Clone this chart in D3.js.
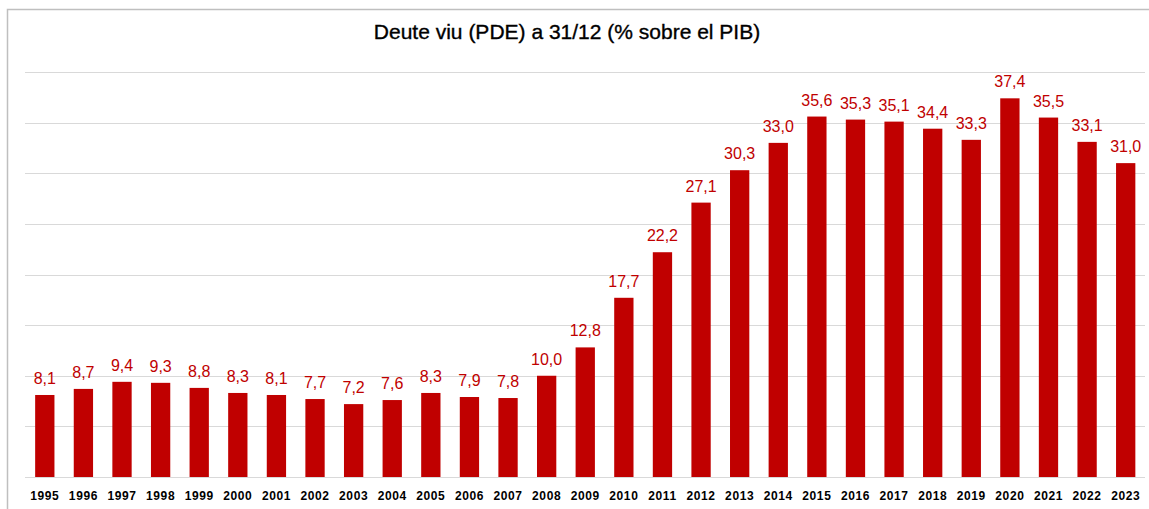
<!DOCTYPE html>
<html><head><meta charset="utf-8">
<script src="https://cdn.jsdelivr.net/npm/d3@7"></script>
<style>html,body{margin:0;padding:0;background:#fff;}svg{display:block;}</style>
</head><body>
<script>
const years = ["1995","1996","1997","1998","1999","2000","2001","2002","2003","2004","2005","2006","2007","2008","2009","2010","2011","2012","2013","2014","2015","2016","2017","2018","2019","2020","2021","2022","2023"];
const values = [8.1,8.7,9.4,9.3,8.8,8.3,8.1,7.7,7.2,7.6,8.3,7.9,7.8,10.0,12.8,17.7,22.2,27.1,30.3,33.0,35.6,35.3,35.1,34.4,33.3,37.4,35.5,33.1,31.0];
const yTicks = [0,5,10,15,20,25,30,35,40];
const title = "Deute viu (PDE) a 31/12 (% sobre el PIB)";

const W = 1149, H = 509;
const svg = d3.select("body").append("svg").attr("width", W).attr("height", H);

// border
svg.append("path").attr("d", "M7.5,509 V9.5 H1149").attr("fill","none").attr("stroke","#bfbfbf").attr("stroke-width",1.5);

const x = d3.scaleBand().domain(years).range([25.5, 1145]).paddingInner(0.5).paddingOuter(0.25);
const y = d3.scaleLinear().domain([0, 40]).range([477, 72]);

// gridlines
svg.append("g").selectAll("line").data(yTicks).join("line")
  .attr("x1", 25).attr("x2", 1145)
  .attr("y1", d => Math.round(y(d)) + 0.5).attr("y2", d => Math.round(y(d)) + 0.5)
  .attr("stroke", "#d9d9d9").attr("stroke-width", 1.2);

// bars
svg.append("g").selectAll("rect").data(values).join("rect")
  .attr("x", (d,i) => x(years[i]))
  .attr("width", x.bandwidth())
  .attr("y", d => y(d))
  .attr("height", d => y(0) - y(d))
  .attr("fill", "#c00000");

// value labels
const fmt = v => v.toFixed(1).replace(".", ",");
svg.append("g").selectAll("text").data(values).join("text")
  .attr("x", (d,i) => x(years[i]) + x.bandwidth()/2)
  .attr("y", d => y(d) - 11)
  .attr("text-anchor", "middle")
  .attr("font-family", "Liberation Sans, Arial, sans-serif")
  .attr("font-size", 16)
  .attr("fill", "#c00000")
  .text(fmt);

// x axis labels
const xAxis = d3.axisBottom(x).tickSize(0).tickPadding(0);
const gx = svg.append("g").attr("transform", `translate(0,${y(0)})`).call(xAxis);
gx.select(".domain").remove();
gx.selectAll("text")
  .attr("y", 23)
  .attr("dy", 0)
  .attr("font-family", "Liberation Sans, Arial, sans-serif")
  .attr("font-size", 12)
  .attr("font-weight", "bold")
  .attr("letter-spacing", "0.6px")
  .attr("fill", "#000");

// title
svg.append("text").attr("x", 567).attr("y", 39)
  .attr("text-anchor", "middle")
  .attr("font-family", "Liberation Sans, Arial, sans-serif")
  .attr("font-size", 21)
  .attr("fill", "#000")
  .attr("stroke", "#000")
  .attr("stroke-width", 0.35)
  .text(title);
</script>
</body></html>
